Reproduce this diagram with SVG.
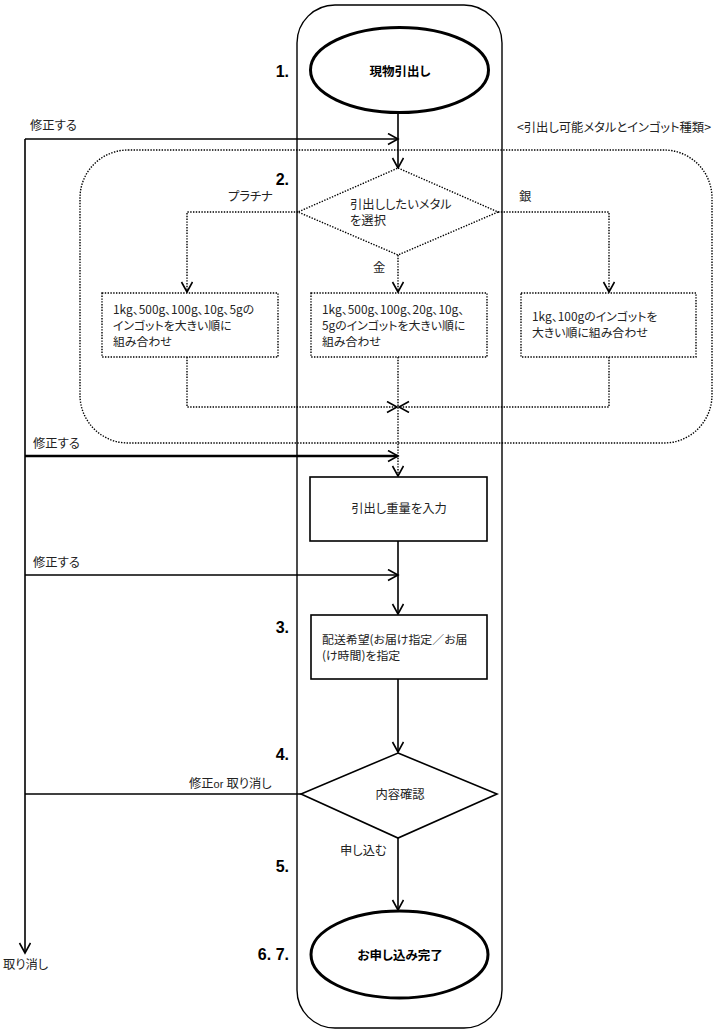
<svg xmlns="http://www.w3.org/2000/svg" width="717" height="1034" viewBox="0 0 717 1034">
<defs>
<style>
text{font-family:"Noto Sans CJK JP","Noto Sans CJK SC",sans-serif;font-size:12.3px;fill:#222;font-feature-settings:"palt";}
.m{font-size:11.9px;}
.num{font-family:"Liberation Sans",Arial,sans-serif;font-size:16px;font-weight:bold;fill:#000;text-anchor:end;}
.b{font-weight:bold;font-size:12.5px;fill:#000;}
.c{text-anchor:middle;}
.solid{fill:none;stroke:#000;stroke-width:1.6;}
.dot{fill:none;stroke:#000;stroke-width:1.4;stroke-dasharray:1.4 1.4;}
.nodeS{fill:#fff;stroke:#000;stroke-width:1.6;}
.nodeD{fill:#fff;stroke:#000;stroke-width:1.4;stroke-dasharray:1.4 1.4;}
.ell{fill:#fff;stroke:#000;stroke-width:3;}
</style>
<marker id="arr" markerUnits="userSpaceOnUse" markerWidth="14" markerHeight="14" refX="11" refY="6" orient="auto">
<path d="M1,0.5 L11,6 L1,11.5" fill="none" stroke="#000" stroke-width="1.6"/>
</marker>
</defs>
<rect width="717" height="1034" fill="#fff"/>

<g id="lane">
<rect x="297" y="5" width="205" height="1023" rx="38" ry="38" fill="none" stroke="#000" stroke-width="1.4"/>
</g>
<g id="group-metals">
<rect x="80" y="150" width="632" height="293" rx="48" ry="48" class="dot"/>
<text x="711" y="132" text-anchor="end">&lt;引出し可能メタルとインゴット種類&gt;</text>
</g>

<g id="connectors">
<path class="solid" d="M398,112 V168" marker-end="url(#arr)"/>
<path class="solid" d="M25,139 H398" marker-end="url(#arr)"/>
<path class="solid" d="M25,139 V953" marker-end="url(#arr)"/>
<path class="dot" d="M298,212 H187 V292" marker-end="url(#arr)"/>
<path class="dot" d="M498,212 H609 V292" marker-end="url(#arr)"/>
<path class="dot" d="M398,255 V292" marker-end="url(#arr)"/>
<path class="dot" d="M187,357 V407 H397" marker-end="url(#arr)"/>
<path class="dot" d="M609,357 V407 H399" marker-end="url(#arr)"/>
<path class="dot" d="M398,357 V476" marker-end="url(#arr)"/>
<path fill="none" stroke="#000" stroke-width="2.6" d="M25,456 H398" marker-end="url(#arr)"/>
<path class="solid" d="M398,541 V614" marker-end="url(#arr)"/>
<path class="solid" d="M25,575 H398" marker-end="url(#arr)"/>
<path class="solid" d="M398,679 V752" marker-end="url(#arr)"/>
<path class="solid" d="M301,794 H25"/>
<path class="solid" d="M398,838 V910" marker-end="url(#arr)"/>
<text x="30" y="130">修正する</text>
<text x="33" y="448">修正する</text>
<text x="33" y="567">修正する</text>
<text x="228" y="201">プラチナ</text>
<text x="519" y="201">銀</text>
<text x="373" y="272">金</text>
<text x="189" y="788">修正<tspan font-family="Liberation Sans,Arial,sans-serif" font-size="11px">or </tspan>取り消し</text>
<text x="340" y="855">申し込む</text>
<text x="3" y="969">取り消し</text>
</g>

<g id="labels">
<text class="num" x="289" y="77">1.</text>
<text class="num" x="289" y="185">2.</text>
<text class="num" x="289" y="633">3.</text>
<text class="num" x="289" y="760">4.</text>
<text class="num" x="289" y="872">5.</text>
<text class="num" x="289" y="960">6. 7.</text>
</g>

<g id="n1">
<ellipse class="ell" cx="399.5" cy="70" rx="89" ry="42.5"/>
<text class="b c" x="400" y="76">現物引出し</text>
</g>
<g id="n2">
<polygon class="nodeD" points="398,168 498,212 398,255 298,212"/>
<text x="350" y="209">引出ししたいメタル</text>
<text x="350" y="225">を選択</text>
</g>
<g id="n-pt">
<rect class="nodeD" x="102" y="293" width="176" height="64"/>
<text class="m" x="113" y="314">1kg、500g、100g、10g、5gの</text>
<text class="m" x="113" y="330">インゴットを大きい順に</text>
<text class="m" x="113" y="346">組み合わせ</text>
</g>
<g id="n-au">
<rect class="nodeD" x="311" y="293" width="176" height="64"/>
<text class="m" x="322" y="314">1kg、500g、100g、20g、10g、</text>
<text class="m" x="322" y="330">5gのインゴットを大きい順に</text>
<text class="m" x="322" y="346">組み合わせ</text>
</g>
<g id="n-ag">
<rect class="nodeD" x="521" y="293" width="175" height="64"/>
<text class="m" x="532" y="321">1kg、100gのインゴットを</text>
<text class="m" x="532" y="337">大きい順に組み合わせ</text>
</g>
<g id="n-weight">
<rect class="nodeS" x="310" y="477" width="177" height="64"/>
<text class="c" x="399" y="513">引出し重量を入力</text>
</g>
<g id="n3">
<rect class="nodeS" x="311" y="615" width="176" height="64"/>
<text class="m" x="322" y="644">配送希望(お届け指定／お届</text>
<text class="m" x="322" y="660">(け時間)を指定</text>
</g>
<g id="n4">
<polygon class="nodeS" points="398,753 497,794 398,838 301,794"/>
<text class="c" x="400" y="799">内容確認</text>
</g>
<g id="n67">
<ellipse class="ell" cx="399.5" cy="954.5" rx="88.5" ry="43.5"/>
<text class="b c" x="400" y="960">お申し込み完了</text>
</g>
</svg>
